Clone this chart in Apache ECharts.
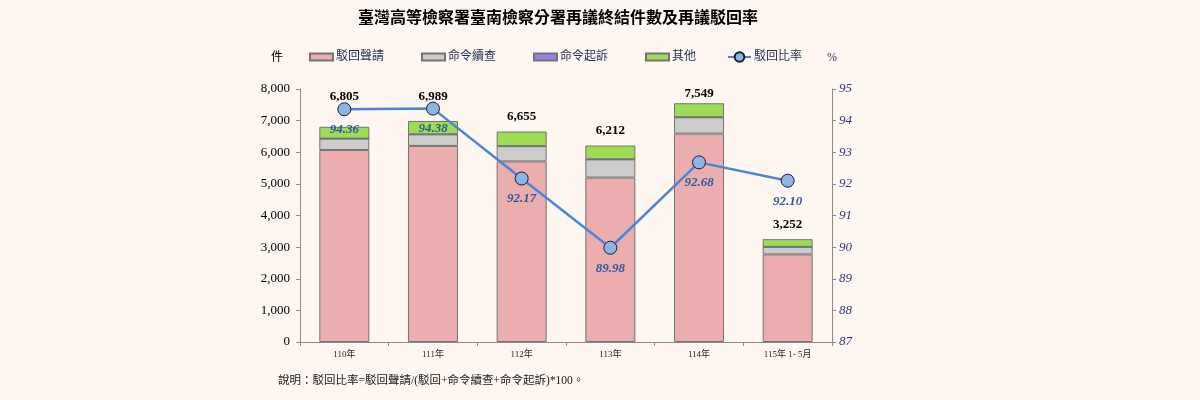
<!DOCTYPE html>
<html>
<head>
<meta charset="utf-8">
<script src="https://cdn.jsdelivr.net/npm/echarts@6/dist/echarts.min.js"></script>
<style>
  html, body { margin: 0; padding: 0; background: #fdf6f1; }
  #Chart { width: 1200px; height: 400px; }
</style>
</head>
<body>
<div id="Chart"></div>
<script>
var years = ['110年', '111年', '112年', '113年', '114年', '115年 1- 5月'];
var rejected = [6070, 6200, 5710, 5200, 6590, 2770];   // 駁回聲請
var reinvest = [360, 366, 482, 575, 516, 236];         // 命令續查
var prosecute = [3, 3, 3, 4, 4, 2];                    // 命令起訴
var others = [372, 420, 460, 433, 439, 244];           // 其他
var totals = [6805, 6989, 6655, 6212, 7549, 3252];
var rate = [94.36, 94.38, 92.17, 89.98, 92.68, 92.10];

// total labels were nudged by hand in the original so they clear the line
var totalLabelLift = [16, 10, 0, 0, -5, 0];

var serif = '"Liberation Serif", "Times New Roman", serif';
var cjk = '"Liberation Serif", "Noto Sans CJK TC", serif';

var myChart = echarts.init(document.getElementById('Chart'));
var barBorder = { borderColor: '#747474', borderWidth: 1 };

function barSeries(name, data, color, isTop) {
    var items = data;
    if (isTop) {
        items = data.map(function (v, i) {
            return { value: v, label: { offset: [0, -totalLabelLift[i]] } };
        });
    }
    return {
        name: name,
        type: 'bar',
        stack: 'total',
        barWidth: 50,
        data: items,
        itemStyle: Object.assign({ color: color }, barBorder),
        label: isTop ? {
            show: true,
            position: 'top',
            distance: 8,
            formatter: function (p) { return totals[p.dataIndex].toLocaleString('en-US'); },
            fontFamily: serif,
            fontWeight: 'bold',
            fontSize: 13,
            color: '#000'
        } : { show: false },
        z: 2
    };
}

var legendNames = ['駁回聲請', '命令續查', '命令起訴', '其他', '駁回比率'];
var legendLeft = [309, 421, 533, 645, 727];
var legends = legendNames.map(function (n, i) {
    var isLine = n === '駁回比率';
    return {
        data: [isLine ? { name: n } : { name: n, icon: 'rect' }],
        left: legendLeft[i],
        top: 51,
        padding: 0,
        itemWidth: 23,
        itemHeight: isLine ? 12 : 7,
        itemGap: 0,
        textStyle: { fontFamily: cjk, fontSize: 12, color: '#1f2d50', padding: [0, 0, 0, -2] }
    };
});

var option = {
    backgroundColor: '#fdf6f1',
    animation: false,
    title: [{
        text: '臺灣高等檢察署臺南檢察分署再議終結件數及再議駁回率',
        left: 553,
        textAlign: 'center',
        top: 6,
        textStyle: { fontFamily: cjk, fontSize: 16, fontWeight: 'bold', color: '#000' }
    }, {
        text: '說明：駁回比率=駁回聲請/(駁回+命令續查+命令起訴)*100。',
        left: 273,
        top: 370,
        textStyle: { fontFamily: cjk, fontSize: 11.5, fontWeight: 'normal', color: '#222' }
    }],
    legend: legends,
    grid: { left: 300, right: 368, top: 89, bottom: 58 },
    xAxis: [{
        type: 'category',
        data: years,
        axisLine: { lineStyle: { color: '#8a8a8a' } },
        axisTick: { show: true, length: 4, lineStyle: { color: '#8a8a8a' } },
        axisLabel: { fontFamily: cjk, fontSize: 9, color: '#222', margin: 8 }
    }, {
        type: 'value',
        min: 0,
        max: 6,
        show: false
    }],
    yAxis: [{
        type: 'value',
        min: 0,
        max: 8000,
        interval: 1000,
        name: '件',
        nameLocation: 'end',
        nameGap: 25,
        nameTextStyle: { fontFamily: cjk, fontSize: 12, color: '#000', align: 'right', padding: [0, 17, 0, 0] },
        axisLine: { show: true, lineStyle: { color: '#8a8a8a' } },
        axisTick: { show: true, length: 4, lineStyle: { color: '#8a8a8a' } },
        splitLine: { show: false },
        axisLabel: {
            fontFamily: serif, fontSize: 13, color: '#000', margin: 10,
            formatter: function (v) { return v.toLocaleString('en-US'); }
        }
    }, {
        type: 'value',
        min: 87,
        max: 95,
        interval: 1,
        position: 'right',
        name: '%',
        nameLocation: 'end',
        nameGap: 25,
        nameTextStyle: { fontFamily: serif, fontSize: 12, color: '#1f2d50', align: 'center' },
        axisLine: { show: true, lineStyle: { color: '#8a8a8a' } },
        axisTick: { show: true, length: 4, lineStyle: { color: '#8a8a8a' } },
        splitLine: { show: false },
        axisLabel: { fontFamily: serif, fontSize: 13, fontStyle: 'italic', color: '#2b3f6e', margin: 7 }
    }],
    series: [
        barSeries('駁回聲請', rejected, '#ebadad', false),
        barSeries('命令續查', reinvest, '#cccccc', false),
        barSeries('命令起訴', prosecute, '#9980e8', false),
        barSeries('其他', others, '#9edc56', true),
        {
            name: '駁回比率',
            type: 'line',
            yAxisIndex: 1,
            data: rate,
            symbol: 'circle',
            symbolSize: 13,
            lineStyle: { color: '#4a86d4', width: 2.5 },
            itemStyle: { color: '#8db4e2', borderColor: '#1a1a2e', borderWidth: 1 },
            label: {
                show: true,
                position: 'bottom',
                distance: 7,
                formatter: function (p) { return p.value.toFixed(2); },
                fontFamily: serif,
                fontSize: 13,
                fontWeight: 'bold',
                fontStyle: 'italic',
                color: '#2e5a9c'
            },
            z: 5
        },
        {
            // separator between full years and partial year
            type: 'line',
            xAxisIndex: 1,
            yAxisIndex: 0,
            data: [],
            silent: true,
            markLine: {
                symbol: 'none',
                silent: true,
                label: { show: false },
                lineStyle: { color: '#9a9a9a', width: 1, type: 'solid' },
                data: [[{ coord: [5, 0] }, { coord: [5, 8300] }]]
            }
        }
    ]
};

myChart.setOption(option);
</script>
</body>
</html>
